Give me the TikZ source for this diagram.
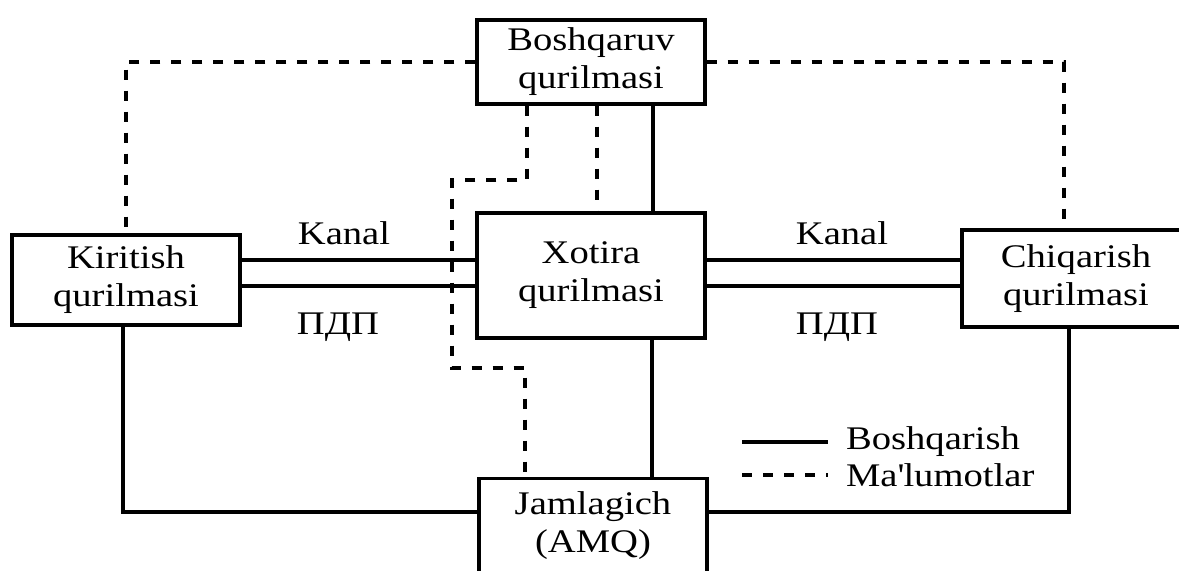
\documentclass[tikz,border=0pt]{standalone}
\usepackage{fontspec}
\setmainfont{Liberation Serif}[FakeStretch=1.17]
\usepackage{tikz}
\pgfdeclarelayer{bg}
\pgfsetlayers{bg,main}
\tikzset{
    every node/.style={inner sep=1mm, font=\fontsize{16.5pt}{19pt}\selectfont},
    blok/.style={rectangle, draw, line width=1.6pt, fill=white, align=center, minimum width=114pt},
    yozuv/.style={rectangle, draw=none}
}
\tikzset{boshq/.style={line width=1.6pt}}
\tikzset{malum/.style={line width=1.6pt, dash pattern=on 5pt off 5.5pt}}

\begin{document}
\begin{tikzpicture}[x=0.5pt, y=-0.5pt]
        \useasboundingbox (0,0) rectangle (1179,570);
        \clip (0,0) rectangle (1179,570);
        \node (b) [blok, minimum height=42pt] at (591,62) {Boshqaruv\\qurilmasi};
        \node (x) [blok, minimum height=62.5pt] at (591,275.5) {Xotira\\qurilmasi};
        \node (k) [blok, minimum height=45pt] at (126,280) {Kiritish\\qurilmasi};
        \node (c) [blok, minimum height=48.5pt] at (1076,278.5) {Chiqarish\\qurilmasi};
        \node (j) [blok, anchor=north, inner ysep=6.7pt] at (593,477) {Jamlagich\\(AMQ)\rule[-8pt]{0pt}{8pt}};
        \node (k1) [yozuv] at (344,233) {Kanal};
        \node (p1) [yozuv] at (338,327) {ПДП};
        \node (k2) [yozuv] at (842,233) {Kanal};
        \node (p2) [yozuv] at (837,327) {ПДП};
        \node (l1) [yozuv, anchor=west] at (840,442) {Boshqarish};
        \node (l2) [yozuv, anchor=west] at (840,475) {Ma\textquotesingle lumotlar};
        \coordinate (l1a) at (742,442);
        \coordinate (l2a) at (742,475);
        \begin{pgfonlayer}{bg}
                \draw (k.east |- 0,260) edge [boshq] (x.west |- 0,260);
                \draw (k.east |- 0,286) edge [boshq] (x.west |- 0,286);
                \draw (x.east |- 0,260) edge [boshq] (c.west |- 0,260);
                \draw (x.east |- 0,286) edge [boshq] (c.west |- 0,286);
                \draw [malum] (b.west) -| (k.north);
                \draw [malum] (b.east) -| ([xshift=-6pt]c.north);
                \draw [malum] ([xshift=-32pt]b.south) |- (452,180) |- (525,368) -- ([xshift=-34pt]j.north);
                \draw ([xshift=3pt]b.south) edge [malum] ([xshift=3pt]x.north);
                \draw ([xshift=31pt]b.south) edge [boshq] ([xshift=31pt]x.north);
                \draw ([xshift=30.5pt]x.south) edge [boshq] ([xshift=29.5pt]j.north);
                \draw [boshq] ([xshift=-1.5pt]k.south) |- (j.west |- 0,512);
                \draw [boshq] ([xshift=-3.5pt]c.south) |- (j.east |- 0,512);
                \draw (l1a) edge [boshq] ([xshift=-6pt]l1.west);
                \draw (l2a) edge [malum] ([xshift=-6pt]l2.west);
        \end{pgfonlayer}
\end{tikzpicture}
\end{document}
